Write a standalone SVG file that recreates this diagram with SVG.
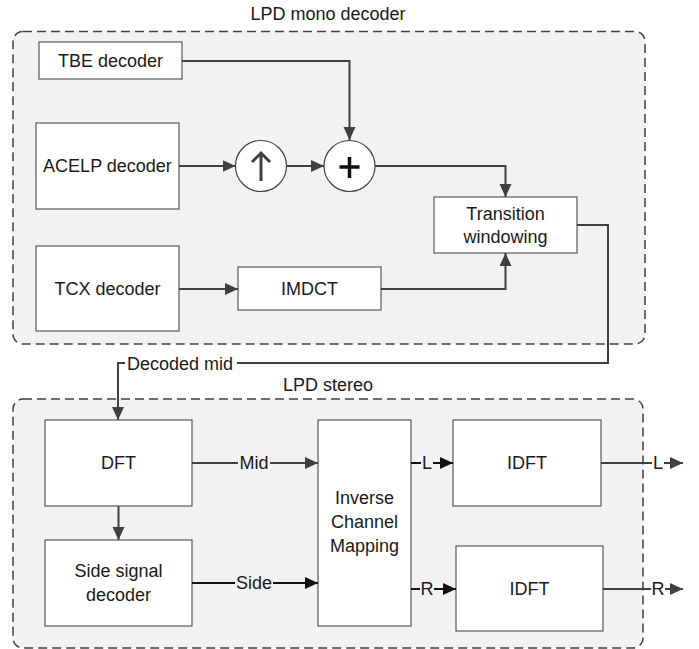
<svg xmlns="http://www.w3.org/2000/svg" width="699" height="649" viewBox="0 0 699 649">
  <defs>
    <marker id="arr" markerUnits="userSpaceOnUse" markerWidth="14" markerHeight="13" refX="13" refY="6" orient="auto">
      <path d="M0,0 L13,6 L0,12 z" fill="#404040"/>
    </marker>
    <marker id="arrK" markerUnits="userSpaceOnUse" markerWidth="14" markerHeight="13" refX="13" refY="6" orient="auto">
      <path d="M0,0 L13,6 L0,12 z" fill="#111"/>
    </marker>
  </defs>
  <style>
    text { font-family: "Liberation Sans", Arial, sans-serif; font-size: 18px; fill: #1a1a1a; }
    .mid { text-anchor: middle; }
    .group { fill: #f2f2f2; stroke: #404040; stroke-width: 1.5; stroke-dasharray: 9 5; }
    .box { fill: #ffffff; stroke: #595959; stroke-width: 1.2; }
    .op { fill: #ffffff; stroke: #404040; stroke-width: 1.2; }
    .wire { fill: none; stroke: #404040; stroke-width: 2; }
    .wireK { fill: none; stroke: #111; stroke-width: 2; }
  </style>

  <rect width="699" height="649" fill="#ffffff"/>

  <!-- containers -->
  <g id="lpd-mono-decoder">
    <rect class="group" x="13" y="31.5" width="632" height="312.5" rx="10"/>
    <text class="mid" x="328" y="20">LPD mono decoder</text>
  </g>
  <g id="lpd-stereo">
    <rect class="group" x="13" y="399" width="630" height="249" rx="10"/>
    <text class="mid" x="328" y="391">LPD stereo</text>
  </g>

  <!-- mono decoder blocks -->
  <g id="tbe-decoder">
    <rect class="box" x="39" y="42" width="143" height="37"/>
    <text class="mid" x="110.5" y="67">TBE decoder</text>
  </g>
  <g id="acelp-decoder">
    <rect class="box" x="36" y="123" width="143" height="86"/>
    <text class="mid" x="107.5" y="172">ACELP decoder</text>
  </g>
  <g id="upsample">
    <circle class="op" cx="261" cy="166" r="25.5"/>
    <path d="M261,181 L261,153 M252,162 L261,153 L270,162" fill="none" stroke="#404040" stroke-width="3"/>
  </g>
  <g id="adder">
    <circle class="op" cx="349.5" cy="166" r="25.5"/>
    <path d="M339.5,167 L359.5,167 M349.5,157 L349.5,178" fill="none" stroke="#111" stroke-width="3.5"/>
  </g>
  <g id="tcx-decoder">
    <rect class="box" x="36" y="246" width="143" height="85"/>
    <text class="mid" x="107.5" y="295">TCX decoder</text>
  </g>
  <g id="imdct">
    <rect class="box" x="238" y="267" width="143" height="43"/>
    <text class="mid" x="309.5" y="295">IMDCT</text>
  </g>
  <g id="transition-windowing">
    <rect class="box" x="434" y="197" width="143" height="56"/>
    <text class="mid" x="505.5" y="220">Transition</text>
    <text class="mid" x="505.5" y="243">windowing</text>
  </g>

  <!-- stereo blocks -->
  <g id="dft">
    <rect class="box" x="45" y="420" width="147" height="86"/>
    <text class="mid" x="118.5" y="469">DFT</text>
  </g>
  <g id="side-signal-decoder">
    <rect class="box" x="45" y="540" width="147" height="86"/>
    <text class="mid" x="118.5" y="577">Side signal</text>
    <text class="mid" x="118.5" y="601">decoder</text>
  </g>
  <g id="inverse-channel-mapping">
    <rect class="box" x="318" y="420" width="93" height="206"/>
    <text class="mid" x="364.5" y="504">Inverse</text>
    <text class="mid" x="364.5" y="528">Channel</text>
    <text class="mid" x="364.5" y="552">Mapping</text>
  </g>
  <g id="idft-left">
    <rect class="box" x="453" y="420" width="148" height="86"/>
    <text class="mid" x="527" y="469">IDFT</text>
  </g>
  <g id="idft-right">
    <rect class="box" x="456" y="546" width="147" height="85"/>
    <text class="mid" x="529.5" y="595">IDFT</text>
  </g>

  <!-- connectors -->
  <g id="connectors">
    <path class="wire" d="M182,61 L349.5,61 L349.5,140" marker-end="url(#arr)"/>
    <path class="wire" d="M179,166 L235.5,166" marker-end="url(#arr)"/>
    <path class="wire" d="M286.5,166 L324,166" marker-end="url(#arr)"/>
    <path class="wire" d="M375,166 L505.5,166 L505.5,197" marker-end="url(#arr)"/>
    <path class="wire" d="M179,289 L238,289" marker-end="url(#arr)"/>
    <path class="wire" d="M381,289 L505.5,289 L505.5,253" marker-end="url(#arr)"/>

    <!-- decoded mid path to the stereo stage -->
    <path class="wire" d="M577,225 L608,225 L608,363 L237,363"/>
    <path class="wire" d="M125,363 L118,363 L118,420" marker-end="url(#arr)"/>
    <text x="127" y="370">Decoded mid</text>

    <path class="wire" d="M118.5,506 L118.5,540" marker-end="url(#arr)"/>

    <path class="wire" d="M192,463 L238,463"/>
    <path class="wire" d="M270,463 L318,463" marker-end="url(#arr)"/>
    <text class="mid" x="254" y="469">Mid</text>

    <path class="wireK" d="M192,583 L235,583"/>
    <path class="wireK" d="M273,583 L318,583" marker-end="url(#arrK)"/>
    <text class="mid" x="254" y="589">Side</text>

    <path class="wireK" d="M411,463 L421,463"/>
    <path class="wireK" d="M433,463 L453,463" marker-end="url(#arrK)"/>
    <text class="mid" x="427" y="469">L</text>

    <path class="wireK" d="M411,589 L420,589"/>
    <path class="wireK" d="M434,589 L456,589" marker-end="url(#arrK)"/>
    <text class="mid" x="427" y="595">R</text>

    <path class="wire" d="M601,463 L652,463"/>
    <path class="wire" d="M664,463 L683,463" marker-end="url(#arr)"/>
    <text class="mid" x="658" y="469">L</text>

    <path class="wire" d="M603,589 L651,589"/>
    <path class="wire" d="M665,589 L683,589" marker-end="url(#arr)"/>
    <text class="mid" x="658" y="595">R</text>
  </g>
</svg>
